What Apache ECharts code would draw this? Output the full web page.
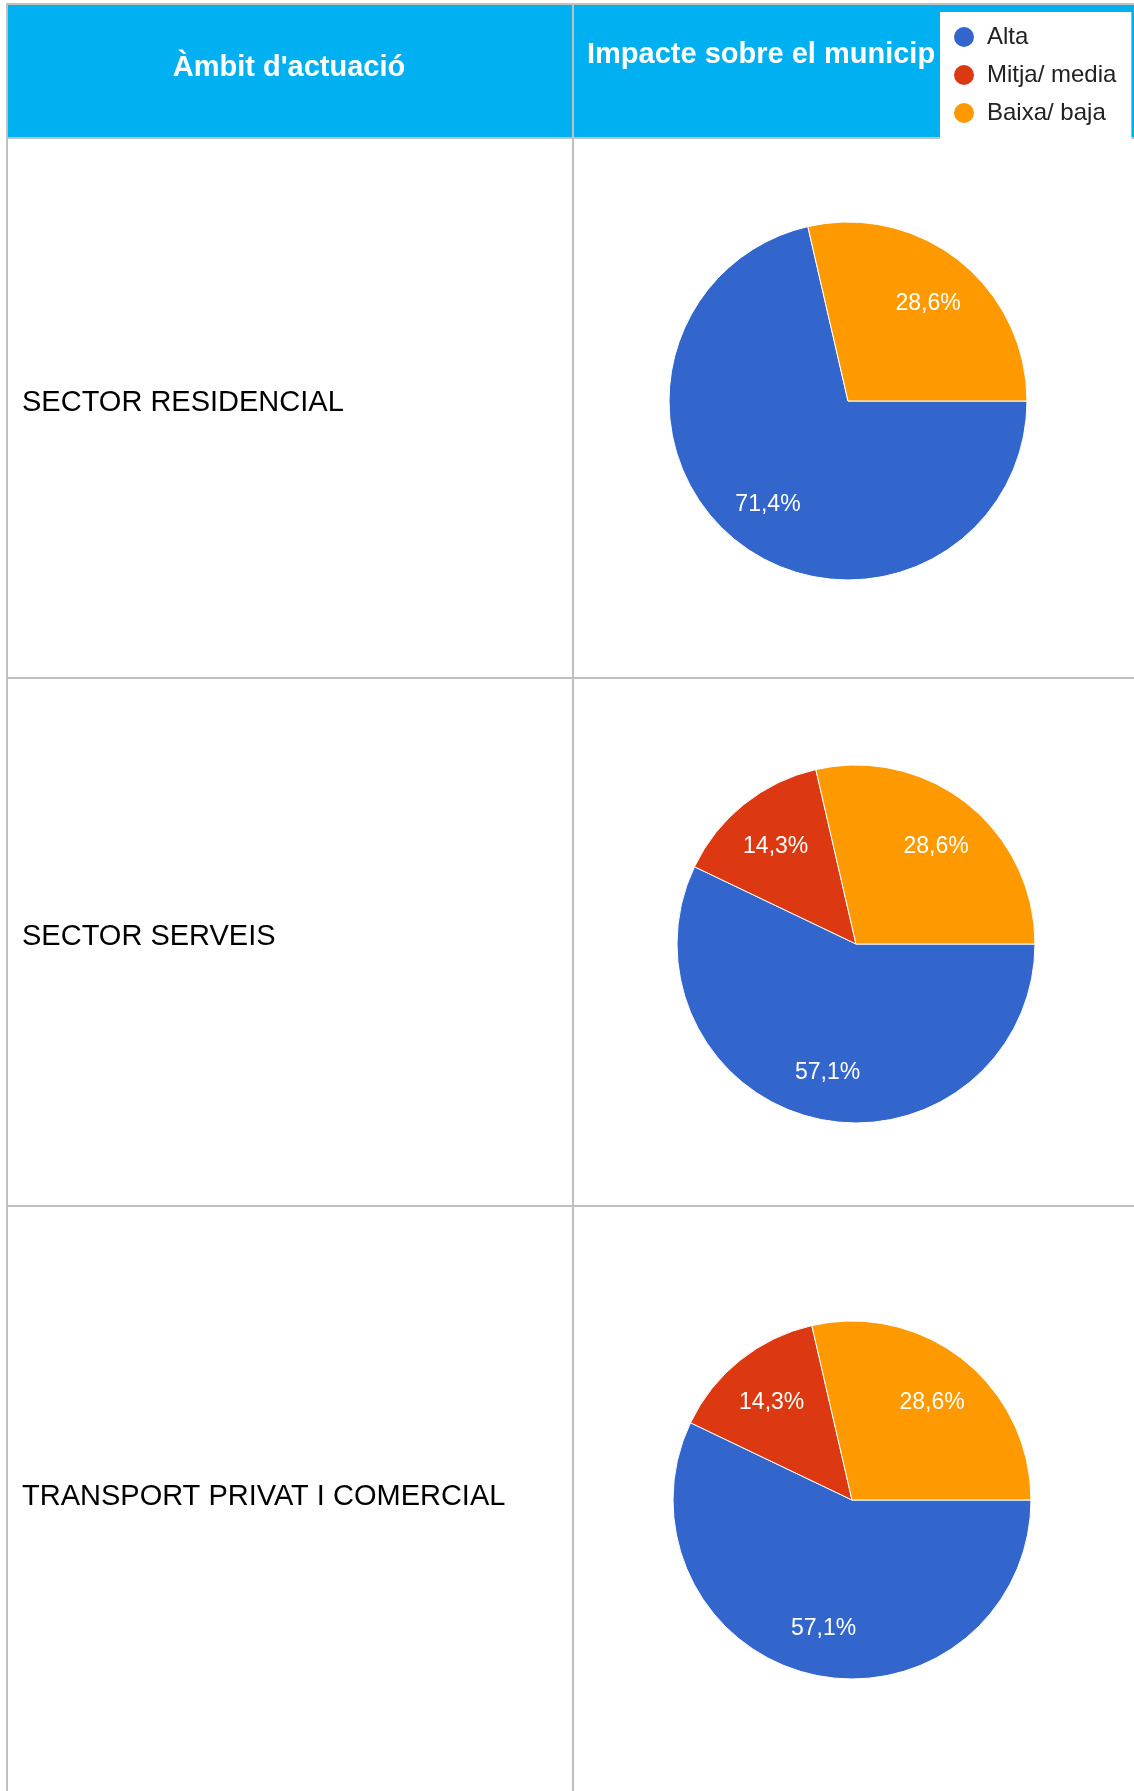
<!DOCTYPE html>
<html>
<head>
<meta charset="utf-8">
<script src="https://cdn.jsdelivr.net/npm/echarts@6/dist/echarts.min.js"></script>
<style>
  html, body { margin: 0; padding: 0; background: #ffffff; }
  #chart { width: 1134px; height: 1791px; }
</style>
</head>
<body>
<div id="chart"></div>
<script>
// Table headings, row categories and impact levels
const headers = ["Àmbit d'actuació", "Impacte sobre el municip"];
const categories = ["SECTOR RESIDENCIAL", "SECTOR SERVEIS", "TRANSPORT PRIVAT I COMERCIAL"];
const levels = ["Alta", "Mitja/ media", "Baixa/ baja"];

// Share of answers (%) per level, one entry per category
const alta  = [71.4, 57.1, 57.1];
const mitja = [0.0, 14.3, 14.3];
const baixa = [28.6, 28.6, 28.6];

const levelColors = ['#3366cc', '#dc3912', '#ff9900'];

// ---- layout of the table ----
const FONT = '"Liberation Sans", Arial, sans-serif';
const tableLeft = 7, tableRight = 1134, colSplit = 573;
const headerTop = 5, headerBottom = 138;
const rowBottoms = [678, 1206];
const rowLabelY = [403, 936.5, 1497];
const pieCenters = [[848, 401], [856, 944], [852, 1500]];
const pieRadius = 179;
const labelInner = 72;   // inner ring that places value labels ~0.7 r out
const borderColor = '#c0c0c0';

const chart = echarts.init(document.getElementById('chart'), null, { renderer: 'canvas' });

function sliceData(i) {
  const vals = [alta[i], mitja[i], baixa[i]];
  return vals
    .map((v, k) => ({ name: levels[k], value: v, itemStyle: { color: levelColors[k] } }))
    .filter(d => d.value > 0);
}

const pctLabel = p => p.value.toFixed(1).replace('.', ',') + '%';

const series = [];
categories.forEach((cat, i) => {
  series.push({
    type: 'pie',
    name: cat,
    center: pieCenters[i],
    radius: [0, pieRadius],
    startAngle: 0,
    clockwise: true,
    silent: true,
    animation: false,
    itemStyle: { borderColor: '#ffffff', borderWidth: 1 },
    label: { show: false },
    labelLine: { show: false },
    emphasis: { disabled: true },
    data: sliceData(i),
    z: 2
  });
  // transparent ring carrying the percentage labels
  series.push({
    type: 'pie',
    name: cat + ' %',
    center: pieCenters[i],
    radius: [labelInner, pieRadius],
    startAngle: 0,
    clockwise: true,
    silent: true,
    animation: false,
    legendHoverLink: false,
    itemStyle: { color: 'rgba(0,0,0,0)', borderWidth: 0 },
    label: {
      show: true,
      position: 'inside',
      formatter: pctLabel,
      color: '#ffffff',
      fontSize: 23,
      fontFamily: FONT,
      offset: [0, 3]
    },
    labelLine: { show: false },
    emphasis: { disabled: true },
    data: sliceData(i).map(d => ({ name: d.name, value: d.value })),
    z: 3
  });
});

const graphics = [];
// header band
graphics.push({
  type: 'rect', z: 0, silent: true,
  shape: { x: tableLeft, y: headerTop, width: tableRight - tableLeft, height: headerBottom - headerTop },
  style: { fill: '#00b0f0' }
});
// horizontal rules
[3, headerBottom - 1, ...rowBottoms.map(y => y - 1)].forEach(y => {
  graphics.push({
    type: 'rect', z: 1, silent: true,
    shape: { x: tableLeft - 1, y: y, width: tableRight - tableLeft + 1, height: 2 },
    style: { fill: borderColor }
  });
});
// vertical rules
[tableLeft - 1, colSplit - 1].forEach(x => {
  graphics.push({
    type: 'rect', z: 1, silent: true,
    shape: { x: x, y: 3, width: 2, height: 1791 - 3 },
    style: { fill: borderColor }
  });
});
// header texts
graphics.push({
  type: 'text', z: 2, silent: true,
  style: {
    x: 289, y: 67.5, text: headers[0], fill: '#ffffff',
    font: 'bold 29px ' + FONT, align: 'center', verticalAlign: 'middle'
  }
});
graphics.push({
  type: 'text', z: 2, silent: true,
  style: {
    x: 587, y: 55, text: headers[1], fill: '#ffffff',
    font: 'bold 29px ' + FONT, align: 'left', verticalAlign: 'middle'
  }
});
// category labels
categories.forEach((cat, i) => {
  graphics.push({
    type: 'text', z: 2, silent: true,
    style: {
      x: 22, y: rowLabelY[i], text: cat, fill: '#000000',
      font: '29px ' + FONT, align: 'left', verticalAlign: 'middle'
    }
  });
});

chart.setOption({
  backgroundColor: '#ffffff',
  animation: false,
  legend: {
    orient: 'vertical',
    left: 940,
    top: 12,
    padding: [13, 15, 18, 12],
    backgroundColor: '#ffffff',
    itemWidth: 22,
    itemHeight: 22,
    itemGap: 14,
    icon: 'circle',
    selectedMode: false,
    z: 10,
    textStyle: { fontSize: 24, color: '#222222', fontFamily: FONT, padding: [0, 0, 0, 7] },
    data: levels.map((n, k) => ({ name: n, itemStyle: { color: levelColors[k] } }))
  },
  graphic: { elements: graphics },
  series: series
});
</script>
</body>
</html>
